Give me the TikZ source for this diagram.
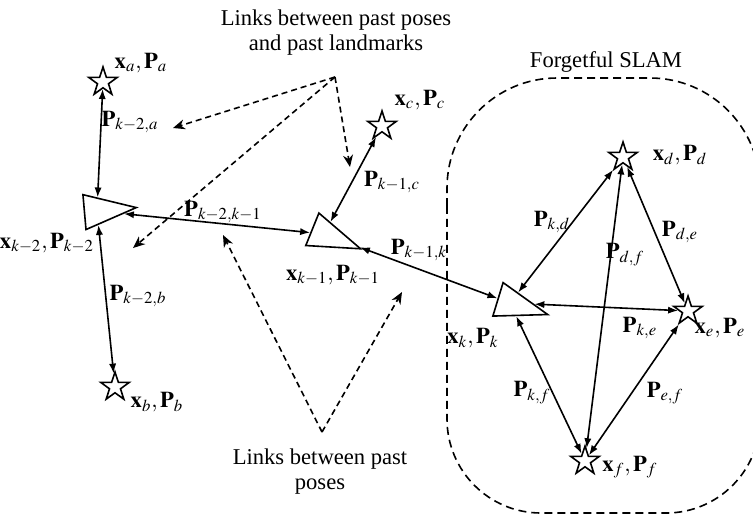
\documentclass[tikz,border=0pt]{standalone}
\usepackage{mathptmx}
\usepackage{fontspec}
\setmainfont{Liberation Serif}
\usetikzlibrary{shapes.geometric,arrows.meta}

\begin{document}
\begin{tikzpicture}[x=0.5pt,y=-0.5pt,>={Latex[length=5pt,width=3.6pt]},font=\fontsize{11.3pt}{12.5pt}\selectfont]
  \tikzstyle{pose}=[isosceles triangle,isosceles triangle stretches,draw,line width=0.8pt,fill=white,inner sep=0pt,minimum width=17.5pt,minimum height=26pt]
  \tikzstyle{lmark}=[star,star points=5,star point ratio=2.6,draw,line width=0.8pt,fill=white,inner sep=0pt,minimum size=15pt]
  \tikzstyle{covlink}=[<->,line width=0.8pt]
  \tikzstyle{hint}=[-{Stealth[length=6pt,width=5pt]},dash pattern=on 3pt off 2pt,line width=0.8pt]
  \tikzstyle{lbl}=[inner sep=0pt]
  \tikzstyle{note}=[align=center,inner sep=0pt]

  \useasboundingbox (0,0) rectangle (753,516);

  % forgetful SLAM region
  \node[note] (fslam) at (606,62) {Forgetful SLAM};
  \begin{scope}
    \clip (0,0) rectangle (753,516);
    \draw[dash pattern=on 4pt off 2.5pt,line width=0.8pt] (447,300) [rounded corners=55pt] |- (760,78) -- (760,300) [rounded corners=47pt] |- (447,513) -- cycle;
  \end{scope}

  % landmarks and poses
  \node[lmark] (a) at (103,82) {};
  \node[lmark] (b) at (115,387) {};
  \node[lmark] (c) at (382,126) {};
  \node[lmark] (d) at (623,157) {};
  \node[lmark] (e) at (688,311) {};
  \node[lmark] (f) at (585,461) {};
  \node[pose,rotate=5] (km2) at (97,211) {};
  \node[pose,rotate=-22] (km1) at (324,234) {};
  \node[pose,rotate=-17] (k) at (510,303) {};

  % correlations
  \draw[covlink] (a) -- (km2);
  \draw[covlink] (km2) -- (b);
  \draw[covlink] (km2) -- (km1);
  \draw[covlink] (km1) -- (c);
  \draw[covlink] (km1) -- (k);
  \draw[covlink] (k) -- (d);
  \draw[covlink] (k) -- (e);
  \draw[covlink] (k) -- (f);
  \draw[covlink] (d) -- (e);
  \draw[covlink] (d) -- (f);
  \draw[covlink] (e) -- (f);

  % state labels
  \node[lbl] (xa) at (141,63) {$\mathbf{x}_a,\mathbf{P}_a$};
  \node[lbl] (xb) at (157,402) {$\mathbf{x}_b,\mathbf{P}_b$};
  \node[lbl] (xc) at (420,100) {$\mathbf{x}_c,\mathbf{P}_c$};
  \node[lbl] (xd) at (680,155) {$\mathbf{x}_d,\mathbf{P}_d$};
  \node[lbl] (xe) at (720,328) {$\mathbf{x}_e,\mathbf{P}_e$};
  \node[lbl] (xf) at (630,467) {$\mathbf{x}_f,\mathbf{P}_f$};
  \node[lbl] (xkm2) at (47,243) {$\mathbf{x}_{k-2},\mathbf{P}_{k-2}$};
  \node[lbl] (xkm1) at (333,275) {$\mathbf{x}_{k-1},\mathbf{P}_{k-1}$};
  \node[lbl] (xk) at (473,338) {$\mathbf{x}_k,\mathbf{P}_k$};

  % link labels
  \node[lbl] (pkm2a) at (130,122) {$\mathbf{P}_{k-2,a}$};
  \node[lbl] (pkm2b) at (138,296) {$\mathbf{P}_{k-2,b}$};
  \node[lbl] (pkm2km1) at (223,212) {$\mathbf{P}_{k-2,k-1}$};
  \node[lbl] (pkm1c) at (392,182) {$\mathbf{P}_{k-1,c}$};
  \node[lbl] (pkm1k) at (419,250) {$\mathbf{P}_{k-1,k}$};
  \node[lbl] (pkd) at (552,222) {$\mathbf{P}_{k,d}$};
  \node[lbl] (pdf) at (625,255) {$\mathbf{P}_{d,f}$};
  \node[lbl] (pde) at (680,232) {$\mathbf{P}_{d,e}$};
  \node[lbl] (pke) at (640,328) {$\mathbf{P}_{k,e}$};
  \node[lbl] (pkf) at (532,393) {$\mathbf{P}_{k,f}$};
  \node[lbl] (pef) at (665,393) {$\mathbf{P}_{e,f}$};

  % notes
  \node[note] (pastlm) at (336,33) {Links between past poses\\and past landmarks};
  \node[note] (pastps) at (320,472) {Links between past\\poses};

  \coordinate (hpl) at (335,77);
  \coordinate (hpl1) at (173,128);
  \coordinate (hpl2) at (133,248);
  \coordinate (hpl3) at (350,167);
  \coordinate (hpp) at (322,432);
  \coordinate (hpp1) at (223,235);
  \coordinate (hpp2) at (402,292);
  \draw[hint] (hpl) -- (hpl1);
  \draw[hint] (hpl) -- (hpl2);
  \draw[hint] (hpl) -- (hpl3);
  \draw[hint] (hpp) -- (hpp1);
  \draw[hint] (hpp) -- (hpp2);
\end{tikzpicture}
\end{document}
